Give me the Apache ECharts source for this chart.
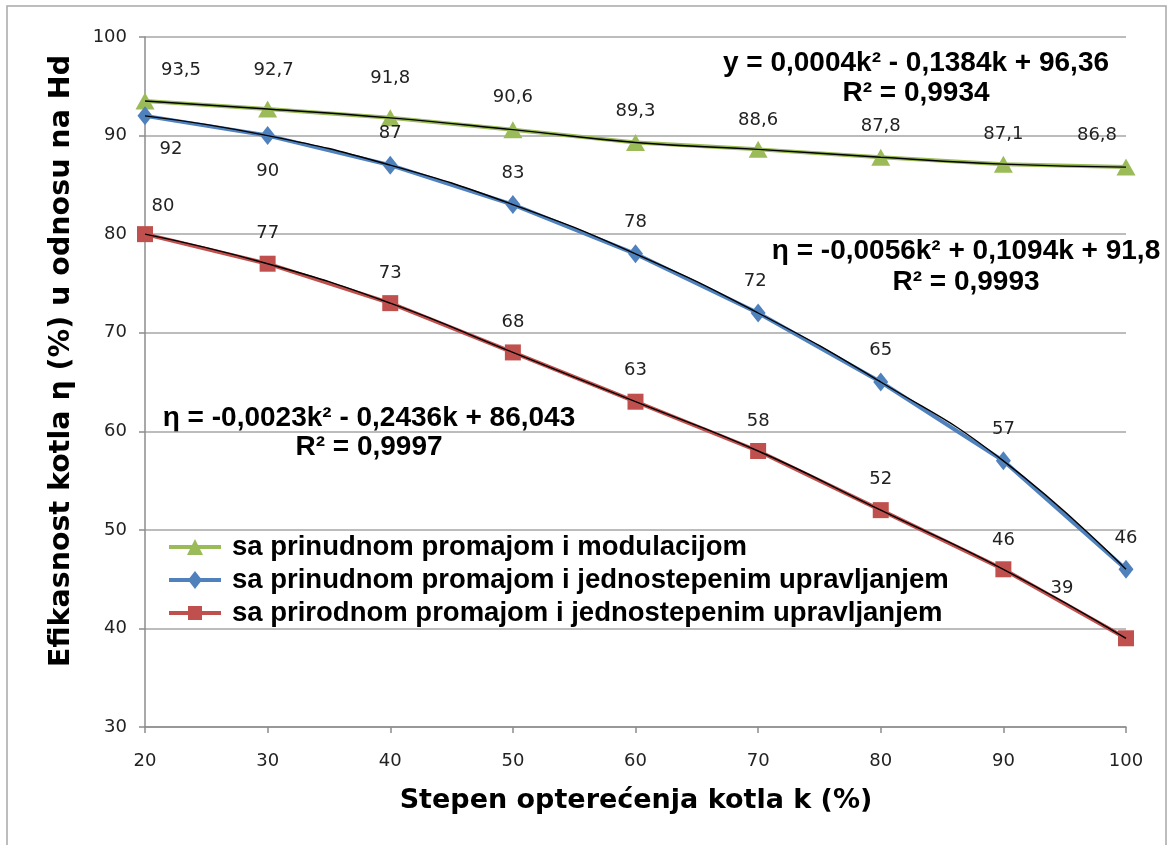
<!DOCTYPE html>
<html>
<head>
<meta charset="utf-8">
<title>Efikasnost kotla</title>
<script src="https://cdn.jsdelivr.net/npm/echarts@6/dist/echarts.min.js"></script>
<style>
  html, body { margin: 0; padding: 0; background: #ffffff; }
  #chart { width: 1171px; height: 845px; }
</style>
</head>
<body>
<div id="chart"></div>
<script>
// Boiler load k (%)
const loads = [20, 30, 40, 50, 60, 70, 80, 90, 100];

// Boiler efficiency (%) per operating mode
const effModulation = [93.5, 92.7, 91.8, 90.6, 89.3, 88.6, 87.8, 87.1, 86.8];
const effForcedSingle = [92, 90, 87, 83, 78, 72, 65, 57, 46];
const effNaturalSingle = [80, 77, 73, 68, 63, 58, 52, 46, 39];

const seriesNames = [
  'sa prinudnom promajom i modulacijom',
  'sa prinudnom promajom i jednostepenim upravljanjem',
  'sa prirodnom promajom i jednostepenim upravljanjem'
];

const yTicks = [30, 40, 50, 60, 70, 80, 90, 100];
const xTicks = [20, 30, 40, 50, 60, 70, 80, 90, 100];

// Fitted trend equations, as printed on the chart
const trendTexts = [
  ['y = 0,0004k\u00B2 - 0,1384k + 96,36', 'R\u00B2 = 0,9934'],
  ['\u03B7 = -0,0056k\u00B2 + 0,1094k + 91,8', 'R\u00B2 = 0,9993'],
  ['\u03B7 = -0,0023k\u00B2 - 0,2436k + 86,043', 'R\u00B2 = 0,9997']
];

// Label nudges (px) relative to the default "top" placement
const offModulation = [[36, 0], [6, -8], [0, -9], [0, -2], [0, -1], [0, 1], [0, 0], [0, 1], [-29, -1]];
const offForcedSingle = [[26, 65], [0, 67], [0, 0], [0, 0], [0, 0], [-3, 0], [0, 0], [0, 0], [0, 1]];
const offNaturalSingle = [[18, 2], [0, 0], [0, 0], [0, 0], [0, -1], [0, 0], [0, -1], [0, 1], [-64, -20]];

const colors = ['#9bbb59', '#4f81bd', '#c0504d'];
const symbols = ['triangle', 'diamond', 'rect'];
const symbolSizes = [[19, 17], [15, 19], [16, 16]];

// Legend keys: a thick line segment with the series marker in the middle
const legendIcons = [
  'path://M0,7L52,7L52,11L0,11Z M26,1L34,17L18,17Z',
  'path://M0,7L52,7L52,11L0,11Z M26,0L33,9L26,18L19,9Z',
  'path://M0,7L52,7L52,11L0,11Z M19,2L33,2L33,16L19,16Z'
];

function pairs(values) {
  return loads.map((k, i) => [k, values[i]]);
}

function labelled(values, offsets) {
  return loads.map((k, i) => ({
    value: [k, values[i]],
    label: { offset: offsets[i] }
  }));
}

const valueSets = [effModulation, effForcedSingle, effNaturalSingle];
const offsetSets = [offModulation, offForcedSingle, offNaturalSingle];

const labelFont = {
  fontFamily: '"DejaVu Sans", Verdana, sans-serif',
  fontSize: 18,
  color: '#222222'
};

const series = [];
valueSets.forEach((vals, s) => {
  series.push({
    name: seriesNames[s],
    type: 'line',
    data: labelled(vals, offsetSets[s]),
    symbol: symbols[s],
    symbolSize: symbolSizes[s],
    itemStyle: { color: colors[s] },
    lineStyle: { color: colors[s], width: 4 },
    z: 2,
    label: {
      show: true,
      position: 'top',
      distance: 13,
      formatter: p => String(p.value[1]).replace('.', ','),
      ...labelFont
    },
    animation: false
  });
});
// thin black trend curves drawn over the data lines
valueSets.forEach((vals, s) => {
  series.push({
    name: 'trend-' + s,
    type: 'line',
    data: pairs(vals),
    smooth: true,
    symbol: 'none',
    silent: true,
    lineStyle: { color: '#000000', width: 1.4 },
    z: 3,
    animation: false
  });
});

const boldArial = '"Liberation Sans", Arial, sans-serif';
const titleFont = '"DejaVu Sans", Tahoma, sans-serif';

const graphics = [
  {
    type: 'rect',
    shape: { x: 7, y: 6, width: 1159, height: 860 },
    style: { fill: 'none', stroke: '#a8a8a8', lineWidth: 1.5 },
    z: -10,
    silent: true
  },
  {
    type: 'text',
    x: 62, y: 361,
    rotation: Math.PI / 2,
    style: {
      text: 'Efikasnost kotla \u03B7 (%) u odnosu na Hd',
      font: 'bold 28.5px ' + titleFont,
      fill: '#000000',
      align: 'center',
      verticalAlign: 'middle'
    }
  },
  {
    type: 'text',
    x: 636, y: 801,
    style: {
      text: 'Stepen optere\u0107enja kotla k (%)',
      font: 'bold 27px ' + titleFont,
      fill: '#000000',
      align: 'center',
      verticalAlign: 'middle'
    }
  }
];

const eqPos = [[916, 63, 93], [966, 251, 282], [369, 418, 447]];
trendTexts.forEach((t, i) => {
  graphics.push({
    type: 'text', x: eqPos[i][0], y: eqPos[i][1],
    style: { text: t[0], font: 'bold 28px ' + boldArial, fill: '#000', align: 'center', verticalAlign: 'middle' }
  });
  graphics.push({
    type: 'text', x: eqPos[i][0], y: eqPos[i][2],
    style: { text: t[1], font: 'bold 28px ' + boldArial, fill: '#000', align: 'center', verticalAlign: 'middle' }
  });
});

const chart = echarts.init(document.getElementById('chart'), null, { renderer: 'canvas' });
chart.setOption({
  backgroundColor: '#ffffff',
  animation: false,
  grid: { left: 145, right: 45, top: 37, bottom: 118 },
  xAxis: {
    type: 'value',
    min: xTicks[0],
    max: xTicks[xTicks.length - 1],
    interval: 10,
    axisLine: { lineStyle: { color: '#8c8c8c', width: 1.5 } },
    axisTick: { show: true, length: 6, lineStyle: { color: '#8c8c8c', width: 1.5 } },
    splitLine: { show: false },
    axisLabel: { margin: 25, ...labelFont }
  },
  yAxis: {
    type: 'value',
    min: yTicks[0],
    max: yTicks[yTicks.length - 1],
    interval: 10,
    axisLine: { show: true, lineStyle: { color: '#8c8c8c', width: 1.5 } },
    axisTick: { show: true, length: 6, lineStyle: { color: '#8c8c8c', width: 1.5 } },
    splitLine: { show: true, lineStyle: { color: '#a6a6a6', width: 1.5 } },
    axisLabel: { margin: 18, ...labelFont }
  },
  legend: {
    data: seriesNames.map((name, i) => ({ name: name, icon: legendIcons[i] })),
    orient: 'vertical',
    left: 164,
    top: 528,
    itemWidth: 52,
    itemHeight: 18,
    itemGap: 5,
    textStyle: {
      fontFamily: boldArial,
      fontWeight: 'bold',
      fontSize: 27.5,
      color: '#000000',
      padding: [0, 0, 0, 6]
    }
  },
  series: series,
  graphic: graphics
});
</script>
</body>
</html>
